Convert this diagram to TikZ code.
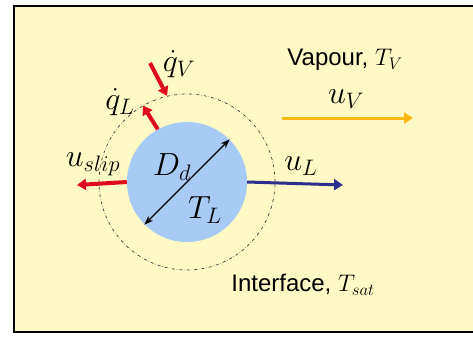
\documentclass[tikz,border=0pt]{standalone}
\usepackage{fix-cm}
\usepackage{fontspec}
\setmainfont{Liberation Sans}
\usetikzlibrary{arrows.meta}
\definecolor{cbg}{HTML}{FFF9C6}
\definecolor{cdrop}{HTML}{A7CBF4}
\definecolor{cred}{HTML}{DE0A1E}
\definecolor{cblue}{HTML}{2C2F8E}
\definecolor{corange}{HTML}{FDB813}
\tikzset{
  every picture/.style={x=1pt, y=-1pt},
  lbl/.style={font=\fontsize{24}{28}\selectfont, inner sep=0pt},
  sym/.style={font=\fontsize{32}{36}\selectfont, inner sep=0pt},
  flow/.style={-{Triangle[length=9pt, width=11pt]}, line width=#1},
  flow/.default=3pt,
}

\begin{document}
\begin{tikzpicture}
  \useasboundingbox (0,0) rectangle (473,338);
  \clip (0,0) rectangle (473,338);
  \draw[line width=2.5pt, fill=cbg] (14,6) rectangle (490,332);
  % droplet and interface
  \node[circle, fill=cdrop, minimum size=120pt, inner sep=0pt] (drop) at (187,182) {};
  \node[circle, draw=black!75, dash dot, line width=0.7pt, minimum size=176pt, inner sep=0pt] (iface) at (187,182) {};
  \draw[{Stealth[length=9pt]}-{Stealth[length=9pt]}, line width=1.2pt] (drop.225) -- (drop.45);
  \node[sym] (dd) at (172,167) {$D_d$};
  \node[sym] (tl) at (205,210) {$T_L$};
  % velocities
  \coordinate (slipend) at (77,185);
  \coordinate (ulend) at (343,185);
  \coordinate (uvstart) at (282,118);
  \coordinate (uvend) at (413,118);
  \draw[flow=4pt, draw=cred] (drop.west) -- (slipend);
  \draw[flow, draw=cblue] (drop.east) -- (ulend);
  \draw[flow, draw=corange] (uvstart) -- (uvend);
  \node[sym] (uslip) at (93,164) {$u_{slip}$};
  \node[sym] (ul) at (301,166) {$u_L$};
  \node[sym] (uv) at (346,99) {$u_V$};
  % heat fluxes
  \coordinate (qvstart) at (150,63);
  \draw[flow=4pt, draw=cred] (qvstart) -- (iface.103);
  \draw[flow=4pt, draw=cred] (drop.119) -- (iface.120);
  \node[sym] (qv) at (179,64) {$\dot{q}_V$};
  \node[sym] (ql) at (120,102) {$\dot{q}_L$};
  % phase labels
  \node[lbl] (vap) at (345,60) {Vapour, $T_V$};
  \node[lbl] (int) at (303,285) {Interface, $T_{sat}$};
\end{tikzpicture}
\end{document}
